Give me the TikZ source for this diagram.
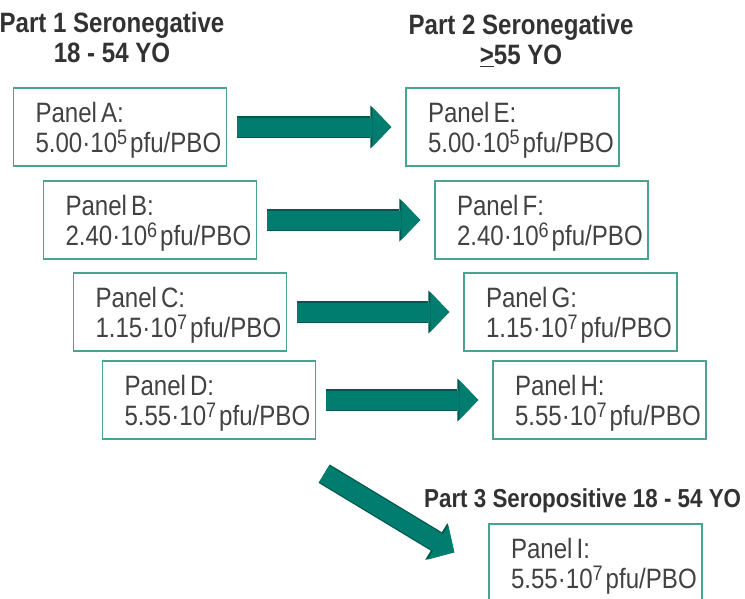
\documentclass[tikz,border=0pt]{standalone}
\usepackage{fontspec}
\setmainfont{Liberation Sans}[FakeStretch=0.86]
\usetikzlibrary{arrows.meta,positioning,calc}
\definecolor{boxteal}{RGB}{74,163,146}
\definecolor{arrteal}{RGB}{0,125,110}
\definecolor{arrdark}{RGB}{0,88,76}
\definecolor{txtgray}{RGB}{66,66,66}
\definecolor{hdgray}{RGB}{50,50,50}
\newcommand{\pnl}[3]{\rule{0pt}{26pt}Panel\kern4pt#1:\\#2·10\raisebox{7.5pt}{\fontsize{21}{21}\selectfont #3}\kern3pt pfu/PBO}
\tikzset{
  panel/.style={draw=boxteal, line width=1.4pt, minimum width=213pt, minimum height=78pt,
                text width=169pt, inner xsep=22pt, inner ysep=8pt, align=left,
                font=\fontsize{28}{30}\selectfont, text=txtgray},
  hdr/.style={font=\fontsize{28}{30}\selectfont\bfseries, text=hdgray, align=center, inner sep=0pt},
  fatarr/.style={draw=arrteal, line width=19pt, -{Triangle[width=40pt, length=19pt, line width=0pt]},
      preaction={draw=arrdark, line width=21.5pt, -{Triangle[width=43pt, length=21pt, line width=0pt]}}},
}

\begin{document}
\begin{tikzpicture}[x=1pt, y=-1pt]
    \path[use as bounding box, fill=white] (0,0) rectangle (745,598);
    \node[hdr, anchor=north] (p1) at (112,12.5) {Part 1 Seronegative\\18 - 54 YO};
    \node[hdr, anchor=north] (p2) at (521,14.5) {Part 2 Seronegative\\\underline{>}55 YO};
    \node[hdr, font=\fontsize{26}{30}\selectfont\bfseries, anchor=base west] (p3) at (424,507)
      {Part 3 Seropositive 18 - 54 YO};
    \node[panel] (A) at (120,127) {\pnl{A}{5.00}{5}};
    \node[panel] (B) at (150,220) {\pnl{B}{2.40}{6}};
    \node[panel] (C) at (180,312) {\pnl{C}{1.15}{7}};
    \node[panel] (D) at (209,400) {\pnl{D}{5.55}{7}};
    \node[panel] (E) at (512.5,127) {\pnl{E}{5.00}{5}};
    \node[panel] (F) at (541.5,220) {\pnl{F}{2.40}{6}};
    \node[panel] (G) at (570.5,312) {\pnl{G}{1.15}{7}};
    \node[panel] (H) at (599.5,400) {\pnl{H}{5.55}{7}};
    \node[panel] (I) at (595.5,563) {\pnl{I}{5.55}{7}};
    \draw[fatarr, shorten <=10pt, shorten >=14pt] (A) -- (E);
    \draw[fatarr, shorten <=10pt, shorten >=14pt] (B) -- (F);
    \draw[fatarr, shorten <=10pt, shorten >=14pt] (C) -- (G);
    \draw[fatarr, shorten <=10pt, shorten >=14pt] (D) -- (H);
    \coordinate (dtail) at ($(D.south east)+(8,34)$);
    \coordinate (itip) at ($(I.north west)+(-34,29)$);
    \draw[fatarr] (dtail) -- (itip);
  \end{tikzpicture}
\end{document}
